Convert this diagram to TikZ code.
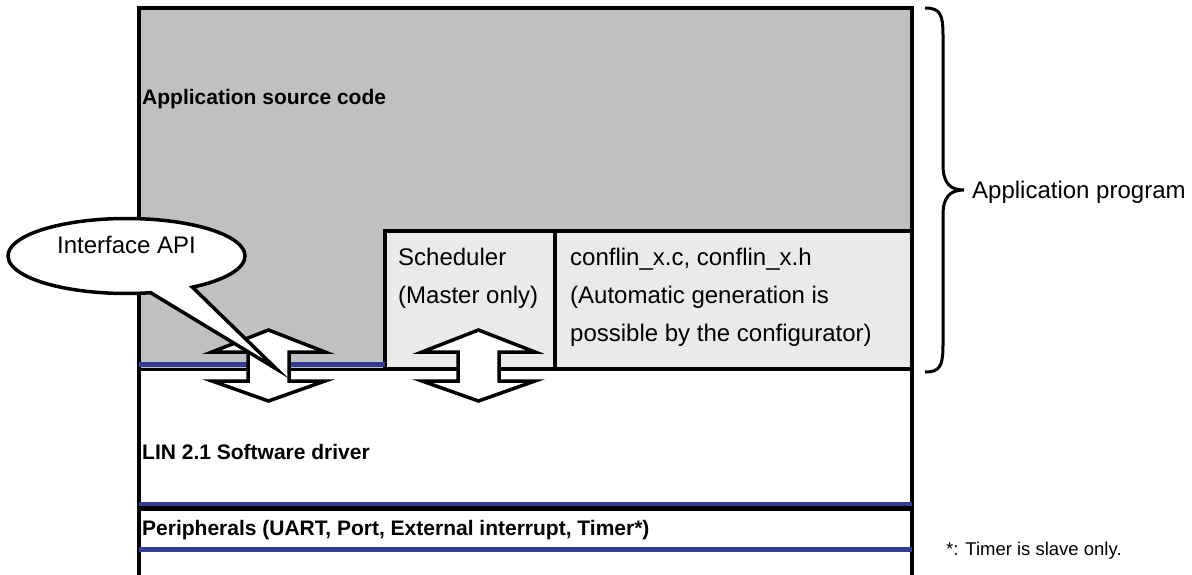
\documentclass[tikz,border=0pt]{standalone}
\usepackage{fontspec}
\setmainfont{Liberation Sans}
\usetikzlibrary{shapes.callouts}
\definecolor{appgray}{RGB}{192,192,192}
\definecolor{boxgray}{RGB}{234,234,234}
\definecolor{layerblue}{RGB}{51,60,150}
\begin{document}
\begin{tikzpicture}[x=1pt,y=-1pt,
  border/.style={line width=3.5pt},
  blueline/.style={draw=layerblue, line width=4.5pt},
  boldlbl/.style={anchor=base west, inner sep=0pt, font=\fontsize{21}{25}\selectfont\bfseries},
  lbl/.style={anchor=base west, inner sep=0pt, font=\fontsize{24}{29}\selectfont},
  notelbl/.style={anchor=base west, inner sep=0pt, font=\fontsize{18.5}{23}\selectfont},
  subbox/.style={draw, line width=3.5pt, fill=boxgray},
  dblarrow/.pic={\draw[line width=3.5pt, fill=white, line join=miter]
     (0,-35.5) -- (56.5,-13.5) -- (20.5,-13.5) -- (20.5,15.5) -- (56.5,15.5)
     -- (0,35.5) -- (-56.5,15.5) -- (-20.5,15.5) -- (-20.5,-13.5) -- (-56.5,-13.5) -- cycle;}
]
\useasboundingbox (0,0) rectangle (1192,575);

% application area
\fill[appgray] (139,8) rectangle (912,369);
\draw[border] (139,578) -- (139,8) -- (912,8) -- (912,578);

% scheduler and configuration boxes
\draw[subbox] (385,231) rectangle (555,369);
\draw[subbox] (555,231) rectangle (912,369);

% layer separators
\draw[blueline] (139,364.5) -- (385,364.5);
\draw[border] (139,369.5) -- (912,369.5);
\draw[blueline] (139,504) -- (912,504);
\draw[line width=4.5pt] (139,508.5) -- (912,508.5);
\draw[blueline] (139,549.5) -- (912,549.5);

% labels
\node[boldlbl] (appsrc) at (142,105) {Application source code};
\node[boldlbl] (lin) at (142,459) {LIN 2.1 Software driver};
\node[boldlbl] (periph) at (142,535) {Peripherals (UART, Port, External interrupt, Timer*)};

\node[lbl] (sched1) at (398,265) {Scheduler};
\node[lbl] (sched2) at (398,303) {(Master only)};
\node[lbl] (conf1) at (570,265) {conflin\_x.c, conflin\_x.h};
\node[lbl] (conf2) at (570,303) {(Automatic generation is};
\node[lbl] (conf3) at (570,341) {possible by the configurator)};

\node[lbl] (appprog) at (972,198) {Application program};
\node[notelbl] (note) at (946,555) {*: Timer is slave only.};

% double arrows
\pic at (268.5,365.5) {dblarrow};
\pic at (478.5,365.5) {dblarrow};

% callout
\coordinate (calltip) at (276.5,369);
\node[ellipse callout, draw, fill=white, line width=3.5pt,
      minimum width=237pt, minimum height=75pt, inner sep=0pt,
      text depth=23pt, font=\fontsize{24}{29}\selectfont,
      callout absolute pointer={(calltip)}, callout pointer arc=22]
  (api) at (126.5,256) {Interface API};

% brace
\draw[line width=3pt] (925,8) .. controls (940,8) and (943,14) .. (943,35)
  -- (943,165) .. controls (943,183) and (950,190) .. (964,190)
  .. controls (950,190) and (943,197) .. (943,215)
  -- (943,345) .. controls (943,366) and (940,372) .. (925,372);
\end{tikzpicture}
\end{document}
